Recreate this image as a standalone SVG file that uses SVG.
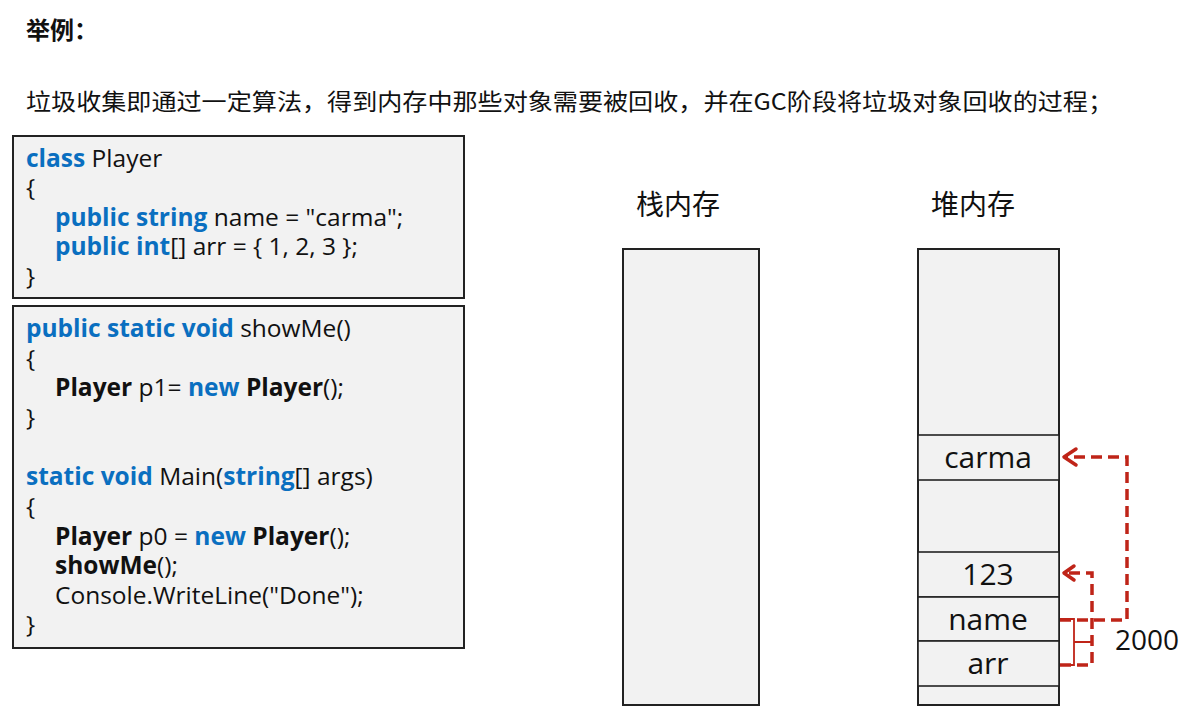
<svg xmlns="http://www.w3.org/2000/svg" width="1201" height="718" viewBox="0 0 1201 718">
<defs>
<style>
.code{font-family:"Open Sans","Noto Sans",sans-serif;font-size:24.5px;fill:#111}
.kw{fill:#0a6fc0;font-weight:bold}
.b{font-weight:bold}
.cjk{font-family:"Noto Sans CJK SC",sans-serif;fill:#111}
.box{fill:#f2f2f2;stroke:#222;stroke-width:2}
.cell{fill:#f2f2f2;stroke:#222;stroke-width:1.6}
.lbl{font-family:"Open Sans","Noto Sans",sans-serif;font-size:30px;fill:#111;text-anchor:middle}
.ref{fill:none;stroke:#bf2418;stroke-width:3.5;stroke-dasharray:11 6}
.head{fill:none;stroke:#bf2418;stroke-width:3.5;stroke-linecap:round;stroke-linejoin:round}
</style>
</defs>
<rect width="1201" height="718" fill="#ffffff"/>
<g id="title">
<text class="cjk" x="26" y="39" font-size="24" font-weight="bold">举例：</text>
<text class="cjk" x="26" y="110" font-size="23" textLength="1087" lengthAdjust="spacingAndGlyphs">垃圾收集即通过一定算法，得到内存中那些对象需要被回收，并在GC阶段将垃圾对象回收的过程；</text>
</g>
<g id="code-class">
<rect class="box" x="13" y="136" width="451" height="162"/>
<text class="code" x="26" y="167"><tspan class="kw">class</tspan> Player</text>
<text class="code" x="26" y="196">{</text>
<text class="code" x="55" y="226"><tspan class="kw">public string</tspan> name = "carma";</text>
<text class="code" x="55" y="255"><tspan class="kw">public int</tspan>[] arr = { 1, 2, 3 };</text>
<text class="code" x="26" y="285">}</text>
</g>
<g id="code-main">
<rect class="box" x="13" y="306" width="451" height="342"/>
<text class="code" x="26" y="337"><tspan class="kw">public static void</tspan> showMe()</text>
<text class="code" x="26" y="367">{</text>
<text class="code" x="55" y="396"><tspan class="b">Player</tspan> p1= <tspan class="kw">new</tspan> <tspan class="b">Player</tspan>();</text>
<text class="code" x="26" y="426">}</text>
<text class="code" x="26" y="485"><tspan class="kw">static void</tspan> Main(<tspan class="kw">string</tspan>[] args)</text>
<text class="code" x="26" y="515">{</text>
<text class="code" x="55" y="545"><tspan class="b">Player</tspan> p0 = <tspan class="kw">new</tspan> <tspan class="b">Player</tspan>();</text>
<text class="code" x="55" y="574"><tspan class="b">showMe</tspan>();</text>
<text class="code" x="55" y="604">Console.WriteLine("Done");</text>
<text class="code" x="26" y="633">}</text>
</g>
<g id="stack">
<text class="cjk" x="636" y="215" font-size="28">栈内存</text>
<rect class="box" x="623" y="249" width="136" height="456"/>
</g>
<g id="heap">
<text class="cjk" x="931" y="215" font-size="28">堆内存</text>
<rect class="box" x="918" y="249" width="141" height="456"/>
<rect class="cell" x="918" y="435" width="141" height="45"/>
<rect class="cell" x="918" y="552" width="141" height="45"/>
<rect class="cell" x="918" y="597" width="141" height="44"/>
<rect class="cell" x="918" y="641" width="141" height="45"/>
<text class="lbl" x="988" y="468">carma</text>
<text class="lbl" x="988" y="585">123</text>
<text class="lbl" x="988" y="630">name</text>
<text class="lbl" x="988" y="674">arr</text>
</g>
<g id="connectors">
<path class="ref" d="M1060,620 H1127 V457 H1064"/>
<polyline class="head" points="1076,449 1064,457 1076,465"/>
<path class="ref" d="M1060,665 H1092 V573 H1064"/>
<polyline class="head" points="1074,566 1064,573 1074,580"/>
<path d="M1060,619 H1074 V665 H1060 M1074,642 H1092" fill="none" stroke="#bf2418" stroke-width="1.8"/>
<text x="1115" y="650" font-family="'Open Sans','Noto Sans',sans-serif" font-size="28" fill="#111">2000</text>
</g>
</svg>
